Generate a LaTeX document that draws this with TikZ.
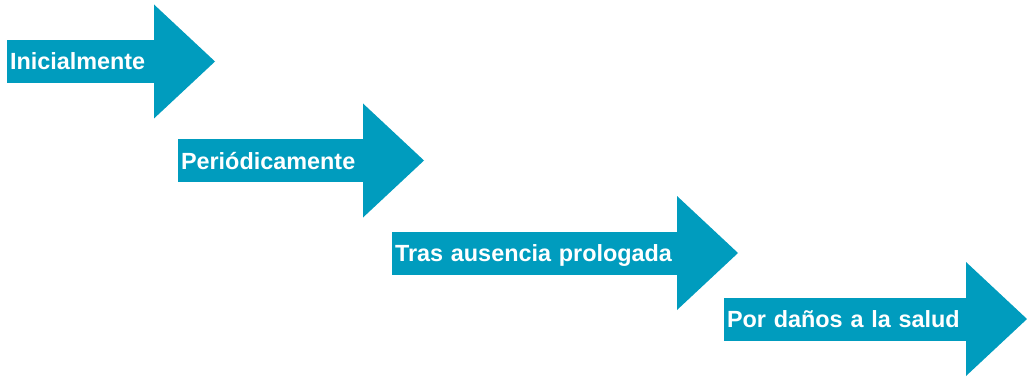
\documentclass[tikz,border=0pt]{standalone}
\usepackage{fontspec}
\setmainfont{Liberation Sans}
\usepackage{tikz}
\usetikzlibrary{positioning}
\definecolor{turquesa}{RGB}{0, 156, 190}

\begin{document}
\begin{tikzpicture}[
    x=1pt, y=-1pt,
    cuerpo/.style={rectangle, fill=turquesa, anchor=west, outer sep=0pt, inner xsep=3pt, inner ysep=0pt, text height=30pt, text depth=13pt, align=left, text=white, font=\bfseries\fontsize{23.4}{26}\selectfont},
    punta/.style={fill=turquesa}
]
    \useasboundingbox (0,0) rectangle (1027,377);
    \node[cuerpo, text width=141pt] (inicial) at (7,61.5) {Inicialmente};
    \node[cuerpo, text width=179pt] (periodica) at (178,160.5) {Periódicamente};
    \node[cuerpo, text width=279pt] (ausencia) at (392,253) {Tras ausencia prologada};
    \node[cuerpo, text width=236pt] (salud) at (724,319) {Por daños a la salud};

    \foreach \n in {inicial, periodica, ausencia, salud}
        \fill[punta] ([yshift=35.5pt]\n.north east) -- ([xshift=61pt]\n.east) -- ([yshift=-35.5pt]\n.south east) -- cycle;
\end{tikzpicture}
\end{document}
